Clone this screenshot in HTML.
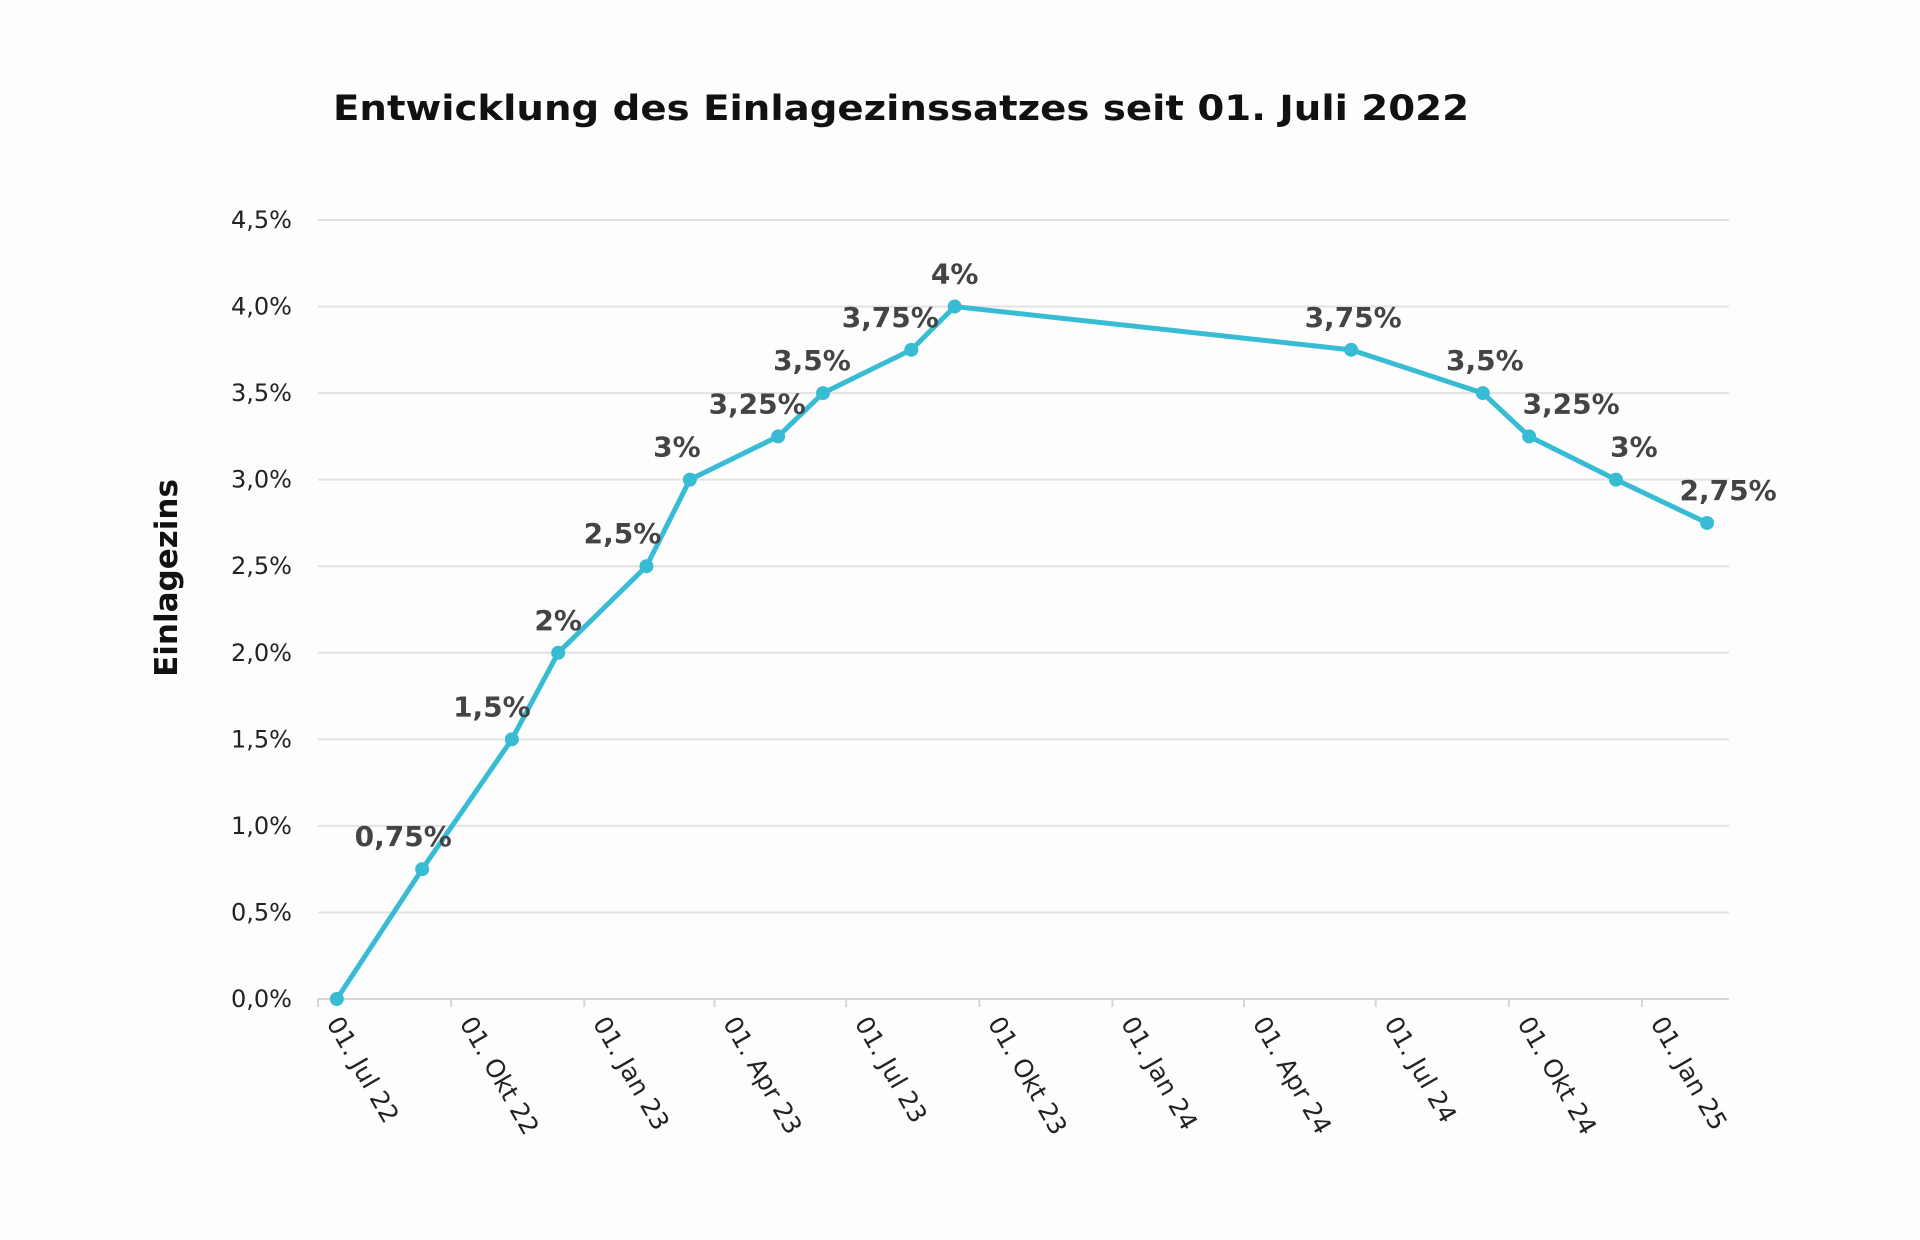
<!DOCTYPE html>
<html>
<head>
<meta charset="utf-8">
<style>
html,body{margin:0;padding:0;background:#fefdfe;}
svg{display:block;}
text{font-family:"DejaVu Sans","Liberation Sans",sans-serif;}
</style>
</head>
<body>
<svg id="chart" width="1920" height="1240" viewBox="0 0 1920 1240" xmlns="http://www.w3.org/2000/svg">
  <rect x="0" y="0" width="1920" height="1240" fill="#fefdfe"/>
  <text x="901" y="120" text-anchor="middle" font-size="35" font-weight="bold" fill="#111" textLength="1136" lengthAdjust="spacingAndGlyphs">Entwicklung des Einlagezinssatzes seit 01. Juli 2022</text>
  <text x="0" y="0" transform="translate(177,578) rotate(-90)" text-anchor="middle" font-size="31" font-weight="bold" fill="#111">Einlagezins</text>
  <g id="grid"></g>
  <g id="yticks"></g>
  <g id="xticks"></g>
  <g id="series"></g>
</svg>
<script>
// ---- data ----
const dates = ["2022-07-14","2022-09-11","2022-11-12","2022-12-14","2023-02-13","2023-03-15","2023-05-15","2023-06-15","2023-08-15","2023-09-14","2024-06-14","2024-09-13","2024-10-15","2024-12-14","2025-02-15"];
const rates = [0, 0.75, 1.5, 2, 2.5, 3, 3.25, 3.5, 3.75, 4, 3.75, 3.5, 3.25, 3, 2.75];
const valueLabels = ["","0,75%","1,5%","2%","2,5%","3%","3,25%","3,5%","3,75%","4%","3,75%","3,5%","3,25%","3%","2,75%"];
const labelDx = [0,-19,-20,0,-24,-13,-21,-11,-21,0,2,2,42,18,21];
const yTicks = [0,0.5,1,1.5,2,2.5,3,3.5,4,4.5];
const yTickLabels = ["0,0%","0,5%","1,0%","1,5%","2,0%","2,5%","3,0%","3,5%","4,0%","4,5%"];
const xTickDates = ["2022-07-01","2022-10-01","2023-01-01","2023-04-01","2023-07-01","2023-10-01","2024-01-01","2024-04-01","2024-07-01","2024-10-01","2025-01-01"];
const xTickLabels = ["01. Jul 22","01. Okt 22","01. Jan 23","01. Apr 23","01. Jul 23","01. Okt 23","01. Jan 24","01. Apr 24","01. Jul 24","01. Okt 24","01. Jan 25"];

// ---- scales ----
const NS = "http://www.w3.org/2000/svg";
const plotL = 318, plotR = 1729, y0 = 999, yTop = 220;
const t0 = Date.UTC(2022,6,1), t1 = Date.UTC(2025,0,1);
const xPos0 = 318, xPos1 = 1642;
function days(s){const p=s.split("-");return Date.UTC(+p[0],+p[1]-1,+p[2]);}
function xScale(s){return xPos0 + (days(s)-t0)/(t1-t0)*(xPos1-xPos0);}
function yScale(v){return y0 - v/4.5*(y0-yTop);}
function mk(tag, attrs, parent){const e=document.createElementNS(NS,tag);for(const k in attrs)e.setAttribute(k,attrs[k]);parent.appendChild(e);return e;}

const grid = document.getElementById("grid");
const yt = document.getElementById("yticks");
yTicks.forEach((v,i)=>{
  const y = yScale(v);
  const l = mk("line",{x1:plotL,x2:plotR,y1:y,y2:y,stroke:i===0?"#d6d6d6":"#e2e2e2","stroke-width":2},grid);
  
  
  const t = mk("text",{x:292,y:y+8,"text-anchor":"end","font-size":24,fill:"#222"},yt);
  t.textContent = yTickLabels[i];
  
  
});

const xt = document.getElementById("xticks");
xTickDates.forEach((d,i)=>{
  const x = xScale(d);
  const tk = mk("line",{x1:x,x2:x,y1:y0,y2:y0+8,stroke:"#d6d6d6","stroke-width":2},xt);
  
  
  const t = mk("text",{x:0,y:0,"font-size":25,fill:"#222",transform:`translate(${x+8},${y0+24}) rotate(60)`},xt);
  t.textContent = xTickLabels[i];
  
  
});

const s = document.getElementById("series");
const pts = dates.map((d,i)=>[xScale(d), yScale(rates[i])]);
const line = mk("polyline",{points:pts.map(p=>p.join(",")).join(" "),fill:"none",stroke:"#38bcd4","stroke-width":5,"stroke-linejoin":"round","stroke-linecap":"round"},s);


pts.forEach((p,i)=>{
  const c = mk("circle",{cx:p[0],cy:p[1],r:7,fill:"#38bcd4"},s);
  
  
  if(valueLabels[i]){
    const t = mk("text",{x:p[0]+labelDx[i],y:p[1]-23,"text-anchor":"middle","font-size":28,"font-weight":"bold",fill:"#444"},s);
    t.textContent = valueLabels[i];
    
    
  }
});
</script>
</body>
</html>
